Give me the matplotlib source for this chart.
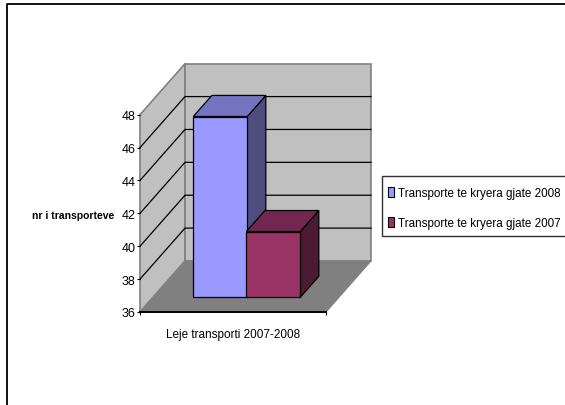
import matplotlib
matplotlib.use("Agg")
import matplotlib.pyplot as plt
from matplotlib.lines import Line2D
from matplotlib.patches import Patch, Polygon, Rectangle

plt.rcParams["font.family"] = ["Liberation Sans"]

series_names = ["Transporte te kryera gjate 2008", "Transporte te kryera gjate 2007"]
values = [47, 40]
y_ticks = [36, 38, 40, 42, 44, 46, 48]
category = "Leje transporti 2007-2008"
y_title = "nr i transporteve"

front_colors = ["#9999FF", "#993366"]
top_colors = ["#7373BF", "#732650"]
side_colors = ["#4D4D80", "#4D1A33"]

# oblique projection: how far one full depth unit moves in data units
DX = 45 / 186
DY = 51 / 16.44


def proj(x, v, d):
    return (x + DX * d, v + DY * d)


def face(ax, pts, color, edge="black", lw=0.9, z=2):
    ax.add_patch(Polygon([proj(*p) for p in pts], closed=True, facecolor=color,
                         edgecolor=edge, linewidth=lw, zorder=z, clip_on=False))


W, H = 565, 406
fig = plt.figure(figsize=(W / 100, H / 100), dpi=100)
ax = fig.add_axes([140 / W, 1 - 313 / H, 186 / W, 197.3 / H])
ax.set_xlim(0, 1)
ax.set_ylim(36, 48)
ax.patch.set_visible(False)
for s in ax.spines.values():
    s.set_visible(False)

vmin, vmax = y_ticks[0], y_ticks[-1]

# walls and floor
face(ax, [(0, vmin, 0), (0, vmin, 1), (0, vmax, 1), (0, vmax, 0)], "#C0C0C0", "#808080", 1.2, 1)
face(ax, [(0, vmin, 1), (1, vmin, 1), (1, vmax, 1), (0, vmax, 1)], "#C0C0C0", "#808080", 1.2, 1)
face(ax, [(0, vmin, 0), (1, vmin, 0), (1, vmin, 1), (0, vmin, 1)], "#808080", "#808080", 0.8, 1)
for v in y_ticks[1:-1]:
    ax.plot(*zip(proj(0, v, 0), proj(0, v, 1), proj(1, v, 1)), color="black", lw=0.9,
            zorder=1.5, clip_on=False)
ax.plot([0, 1], [vmin, vmin], color="black", lw=1.4, zorder=1.6, clip_on=False)

# bars
bar_w = 0.29
bar_x = [0.217, 0.502]
d0, d1 = 0.287, 0.70
for i, val in enumerate(values):
    x0, x1 = bar_x[i], bar_x[i] + bar_w
    z = 3 + i * 0.5
    face(ax, [(x1, vmin, d0), (x1, vmin, d1), (x1, val, d1), (x1, val, d0)], side_colors[i], z=z)
    face(ax, [(x0, val, d0), (x1, val, d0), (x1, val, d1), (x0, val, d1)], top_colors[i], z=z)
    face(ax, [(x0, vmin, d0), (x1, vmin, d0), (x1, val, d0), (x0, val, d0)], front_colors[i], z=z)

ax.set_yticks(y_ticks)
ax.set_xticks([0, 1])
ax.set_xticklabels(["", ""])
ax.tick_params(axis="both", length=2.2, width=0.8, pad=1, labelsize=9)
ax.set_xlabel(category, fontsize=8.5, labelpad=8)
ax.set_ylabel(y_title, rotation=0, ha="right", va="center", fontsize=7.5, fontweight="bold")
ax.yaxis.set_label_coords(-0.14, 0.492)

# legend frame runs off the right edge, so it is drawn on its own
fig.add_artist(Rectangle((382 / W, 1 - 237 / H), 200 / W, 60 / H, transform=fig.transFigure,
                         facecolor="white", edgecolor="#303030", linewidth=1.0))
handles = [Patch(facecolor=c, edgecolor="black", linewidth=0.8) for c in front_colors]
fig.legend(handles, series_names, loc="lower left",
           bbox_to_anchor=(388 / W, 1 - 230 / H), fontsize=8.4, frameon=False,
           borderpad=0, handlelength=0.5, handleheight=0.9, handletextpad=0.35,
           labelspacing=1.55, borderaxespad=0)

# outer frame, only the top and left show
fig.add_artist(Line2D([7 / W, 7 / W, 1], [0, 1 - 5 / H, 1 - 5 / H], color="black", lw=1.3))

fig.savefig("out.png", dpi=100)
